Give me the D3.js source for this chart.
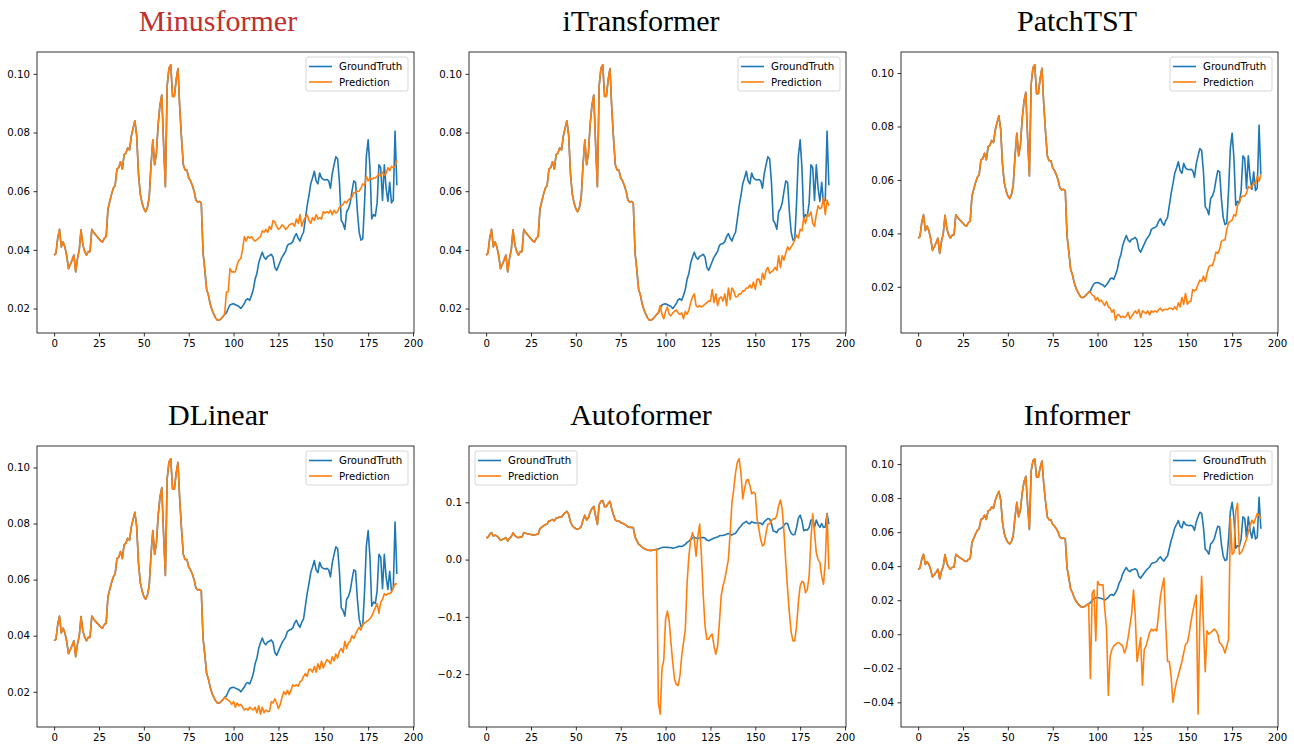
<!DOCTYPE html>
<html>
<head>
<meta charset="utf-8">
<script src="https://cdn.jsdelivr.net/npm/d3@7"></script>
<style>
  body { margin: 0; background: #fff; }
  svg { display: block; }
</style>
</head>
<body>
<svg width="1294" height="747"></svg>
<script>
// time steps: 96 input steps followed by 96 forecast steps
var steps = d3.range(192)

var groundTruth = [
  0.0382, 0.0388, 0.0440, 0.0470, 0.0410, 0.0427, 0.0410, 0.0380, 0.0336, 0.0350,
  0.0365, 0.0382, 0.0325, 0.0370, 0.0400, 0.0468, 0.0417, 0.0395, 0.0382, 0.0394,
  0.0394, 0.0470, 0.0460, 0.0452, 0.0445, 0.0438, 0.0430, 0.0427, 0.0440, 0.0445,
  0.0540, 0.0565, 0.0590, 0.0610, 0.0620, 0.0675, 0.0680, 0.0700, 0.0675, 0.0725,
  0.0730, 0.0748, 0.0740, 0.0787, 0.0815, 0.0840, 0.0790, 0.0660, 0.0590, 0.0560,
  0.0540, 0.0530, 0.0545, 0.0580, 0.0690, 0.0775, 0.0690, 0.0730, 0.0830, 0.0895,
  0.0928, 0.0760, 0.0615, 0.0960, 0.1020, 0.1031, 0.0923, 0.0923, 0.0980, 0.1018,
  0.0884, 0.0780, 0.0690, 0.0672, 0.0672, 0.0645, 0.0635, 0.0620, 0.0600, 0.0570,
  0.0563, 0.0565, 0.0560, 0.0390, 0.0330, 0.0265, 0.0245, 0.0215, 0.0195, 0.0180,
  0.0168, 0.0160, 0.0160, 0.0165, 0.0172, 0.0180, 0.0185, 0.0200, 0.0212, 0.0215,
  0.0216, 0.0213, 0.0210, 0.0207, 0.0200, 0.0208, 0.0217, 0.0230, 0.0233, 0.0228,
  0.0245, 0.0265, 0.0300, 0.0320, 0.0355, 0.0375, 0.0392, 0.0375, 0.0368, 0.0378,
  0.0380, 0.0385, 0.0375, 0.0340, 0.0330, 0.0345, 0.0360, 0.0375, 0.0385, 0.0395,
  0.0415, 0.0420, 0.0422, 0.0428, 0.0445, 0.0455, 0.0440, 0.0430, 0.0448, 0.0460,
  0.0505, 0.0550, 0.0585, 0.0625, 0.0645, 0.0668, 0.0635, 0.0625, 0.0662, 0.0645,
  0.0640, 0.0638, 0.0640, 0.0635, 0.0610, 0.0660, 0.0690, 0.0717, 0.0710, 0.0630,
  0.0500, 0.0490, 0.0470, 0.0530, 0.0540, 0.0560, 0.0600, 0.0635, 0.0630, 0.0530,
  0.0460, 0.0433, 0.0438, 0.0560, 0.0720, 0.0775, 0.0680, 0.0505, 0.0520, 0.0515,
  0.0560, 0.0690, 0.0680, 0.0568, 0.0690, 0.0610, 0.0565, 0.0630, 0.0560, 0.0570,
  0.0805, 0.0620
]

// forecasts for steps 96..191
var predMinusformer = [
  0.0255, 0.0257, 0.0336, 0.0325, 0.0325, 0.0325, 0.0350, 0.0365, 0.0370, 0.0400,
  0.0445, 0.0430, 0.0445, 0.0440, 0.0445, 0.0435, 0.0430, 0.0435, 0.0440, 0.0445,
  0.0465, 0.0460, 0.0470, 0.0460, 0.0480, 0.0470, 0.0500, 0.0495, 0.0480, 0.0470,
  0.0475, 0.0485, 0.0480, 0.0470, 0.0475, 0.0485, 0.0488, 0.0490, 0.0480, 0.0505,
  0.0490, 0.0520, 0.0480, 0.0500, 0.0510, 0.0520, 0.0500, 0.0490, 0.0510, 0.0500,
  0.0520, 0.0505, 0.0510, 0.0505, 0.0530, 0.0525, 0.0530, 0.0525, 0.0535, 0.0520,
  0.0535, 0.0525, 0.0530, 0.0545, 0.0550, 0.0555, 0.0565, 0.0560, 0.0570, 0.0575,
  0.0580, 0.0595, 0.0595, 0.0600, 0.0600, 0.0610, 0.0625, 0.0620, 0.0650, 0.0635,
  0.0645, 0.0640, 0.0645, 0.0645, 0.0650, 0.0660, 0.0650, 0.0665, 0.0655, 0.0660,
  0.0680, 0.0670, 0.0685, 0.0680, 0.0685, 0.0705
]

var predITransformer = [
  0.0185, 0.0210, 0.0180, 0.0165, 0.0190, 0.0205, 0.0180, 0.0175, 0.0185, 0.0190,
  0.0195, 0.0185, 0.0180, 0.0185, 0.0165, 0.0190, 0.0180, 0.0195, 0.0220, 0.0240,
  0.0250, 0.0210, 0.0205, 0.0210, 0.0205, 0.0210, 0.0215, 0.0220, 0.0225, 0.0225,
  0.0265, 0.0220, 0.0250, 0.0210, 0.0235, 0.0240, 0.0225, 0.0250, 0.0210, 0.0270,
  0.0230, 0.0270, 0.0260, 0.0240, 0.0240, 0.0250, 0.0250, 0.0260, 0.0260, 0.0270,
  0.0270, 0.0280, 0.0270, 0.0290, 0.0265, 0.0300, 0.0300, 0.0280, 0.0320, 0.0300,
  0.0330, 0.0340, 0.0320, 0.0325, 0.0330, 0.0340, 0.0330, 0.0380, 0.0340, 0.0380,
  0.0365, 0.0390, 0.0410, 0.0400, 0.0410, 0.0420, 0.0435, 0.0450, 0.0440, 0.0470,
  0.0465, 0.0510, 0.0490, 0.0520, 0.0515, 0.0530, 0.0490, 0.0480, 0.0520, 0.0550,
  0.0540, 0.0545, 0.0580, 0.0520, 0.0570, 0.0550
]

var predPatchTST = [
  0.0180, 0.0170, 0.0165, 0.0150, 0.0160, 0.0145, 0.0150, 0.0140, 0.0130, 0.0145,
  0.0125, 0.0120, 0.0105, 0.0115, 0.0075, 0.0095, 0.0095, 0.0085, 0.0090, 0.0085,
  0.0090, 0.0105, 0.0080, 0.0090, 0.0100, 0.0110, 0.0100, 0.0115, 0.0085, 0.0110,
  0.0105, 0.0100, 0.0110, 0.0095, 0.0110, 0.0105, 0.0110, 0.0105, 0.0115, 0.0120,
  0.0110, 0.0115, 0.0115, 0.0115, 0.0120, 0.0120, 0.0115, 0.0125, 0.0115, 0.0140,
  0.0125, 0.0160, 0.0135, 0.0175, 0.0135, 0.0145, 0.0145, 0.0190, 0.0185, 0.0190,
  0.0210, 0.0225, 0.0220, 0.0240, 0.0220, 0.0250, 0.0275, 0.0280, 0.0280, 0.0300,
  0.0330, 0.0325, 0.0340, 0.0370, 0.0375, 0.0375, 0.0415, 0.0440, 0.0445, 0.0450,
  0.0470, 0.0465, 0.0505, 0.0515, 0.0535, 0.0540, 0.0540, 0.0550, 0.0575, 0.0570,
  0.0575, 0.0590, 0.0585, 0.0615, 0.0595, 0.0620
]

var predDLinear = [
  0.0175, 0.0170, 0.0165, 0.0155, 0.0165, 0.0145, 0.0160, 0.0150, 0.0155, 0.0145,
  0.0135, 0.0140, 0.0135, 0.0145, 0.0140, 0.0135, 0.0145, 0.0125, 0.0150, 0.0120,
  0.0145, 0.0125, 0.0135, 0.0130, 0.0130, 0.0165, 0.0160, 0.0175, 0.0160, 0.0140,
  0.0155, 0.0180, 0.0200, 0.0190, 0.0205, 0.0190, 0.0205, 0.0225, 0.0220, 0.0225,
  0.0220, 0.0235, 0.0240, 0.0255, 0.0265, 0.0255, 0.0280, 0.0280, 0.0270, 0.0290,
  0.0270, 0.0300, 0.0280, 0.0310, 0.0285, 0.0300, 0.0315, 0.0310, 0.0300, 0.0325,
  0.0310, 0.0335, 0.0320, 0.0345, 0.0355, 0.0340, 0.0380, 0.0355, 0.0375, 0.0380,
  0.0400, 0.0390, 0.0405, 0.0420, 0.0430, 0.0420, 0.0440, 0.0445, 0.0450, 0.0455,
  0.0460, 0.0470, 0.0485, 0.0500, 0.0515, 0.0480, 0.0520, 0.0530, 0.0550, 0.0545,
  0.0550, 0.0550, 0.0555, 0.0570, 0.0585, 0.0585
]

var predAutoformer = [
  -0.250, -0.270, -0.190, -0.175, -0.104, -0.090, -0.107, -0.145, -0.180, -0.209,
  -0.218, -0.220, -0.203, -0.168, -0.145, -0.122, -0.040, 0.0065, 0.035, 0.047,
  0.035, 0.006, 0.041, 0.062, 0.006, -0.063, -0.116, -0.139, -0.139, -0.133,
  -0.130, -0.151, -0.165, -0.151, -0.110, -0.063, -0.046, -0.034, -0.017, 0.000,
  0.047, 0.100, 0.123, 0.152, 0.170, 0.176, 0.152, 0.106, 0.123, 0.138,
  0.140, 0.129, 0.115, 0.118, 0.115, 0.071, 0.053, 0.035, 0.024, 0.027,
  0.047, 0.062, 0.062, 0.068, 0.071, 0.071, 0.077, 0.094, 0.104, 0.088,
  0.047, -0.005, -0.052, -0.093, -0.127, -0.142, -0.142, -0.116, -0.075, -0.046,
  -0.038, -0.040, -0.058, -0.052, -0.029, 0.035, 0.080, 0.047, 0.012, 0.000,
  -0.005, -0.029, -0.043, -0.005, 0.080, -0.017
]

var predInformer = [
  -0.026, 0.024, 0.026, -0.004, 0.031, 0.029, 0.029, 0.029, 0.015, 0.003,
  -0.036, -0.013, -0.009, -0.007, -0.006, -0.005, -0.005, -0.006, -0.007, -0.011,
  -0.008, -0.002, 0.005, 0.012, 0.026, 0.011, -0.016, -0.009, -0.002, -0.030,
  -0.009, -0.007, -0.003, 0.001, 0.003, 0.002, 0.003, 0.002, 0.012, 0.022,
  0.028, 0.033, 0.005, -0.016, -0.016, -0.025, -0.040, -0.033, -0.028, -0.024,
  -0.020, -0.016, -0.011, -0.006, -0.005, 0.000, 0.007, 0.013, 0.018, 0.023,
  -0.047, 0.008, 0.034, 0.005, -0.022, 0.002, 0.000, 0.001, 0.002, 0.003,
  0.002, 0.000, -0.005, -0.006, -0.008, -0.011, -0.007, -0.003, 0.068, 0.047,
  0.048, 0.072, 0.077, 0.047, 0.048, 0.050, 0.053, 0.056, 0.060, 0.064,
  0.067, 0.065, 0.068, 0.071, 0.070, 0.068
]

var models = ['Minusformer', 'iTransformer', 'PatchTST', 'DLinear', 'Autoformer', 'Informer']
var predictions = [predMinusformer, predITransformer, predPatchTST, predDLinear, predAutoformer, predInformer]
var seriesNames = ['GroundTruth', 'Prediction']

var xTicks = [0, 25, 50, 75, 100, 125, 150, 175, 200]
var yTicks = [
  [0.02, 0.04, 0.06, 0.08, 0.10],
  [0.02, 0.04, 0.06, 0.08, 0.10],
  [0.02, 0.04, 0.06, 0.08, 0.10],
  [0.02, 0.04, 0.06, 0.08, 0.10],
  [-0.2, -0.1, 0.0, 0.1],
  [-0.04, -0.02, 0.00, 0.02, 0.04, 0.06, 0.08, 0.10]
]
var yFormats = ['.2f', '.2f', '.2f', '.2f', '.1f', '.2f']

// layout
var svg = d3.select('svg')
var panelW = 377, panelH = 281
var panelX = [37, 469, 901], panelY = [52, 446]
var titleX = [218, 641, 1077]
var colors = ['#1f77b4', '#ff7f0e']
var titleColors = ['#c0302f', '#000', '#000', '#000', '#000', '#000']
var legendLeft = [false, false, false, false, true, false]
var tickFont = "'DejaVu Sans', sans-serif"

models.forEach(function(name, k) {
  var x0 = panelX[k % 3], y0 = panelY[Math.floor(k / 3)]
  var pred = groundTruth.slice(0, 96).concat(predictions[k])
  var all = groundTruth.concat(pred)
  var lo = d3.min(all), hi = d3.max(all), pad = (hi - lo) * 0.05
  var ext = d3.extent(steps), xpad = (ext[1] - ext[0]) * 0.05

  var x = d3.scaleLinear().domain([ext[0] - xpad, ext[1] + xpad]).range([0, panelW])
  var y = d3.scaleLinear().domain([lo - pad, hi + pad]).range([panelH, 0])

  var g = svg.append('g').attr('transform', 'translate(' + x0 + ',' + y0 + ')')

  // title
  svg.append('text')
    .attr('x', titleX[k % 3])
    .attr('y', y0 - 21)
    .attr('text-anchor', 'middle')
    .style('font-family', "'Liberation Serif', 'Times New Roman', serif")
    .style('font-size', '30px')
    .attr('fill', titleColors[k])
    .text(name)

  // axes
  var xa = g.append('g')
    .attr('transform', 'translate(0,' + panelH + ')')
    .call(d3.axisBottom(x).tickValues(xTicks).tickSize(3.5).tickPadding(3))
  var ya = g.append('g')
    .call(d3.axisLeft(y).tickValues(yTicks[k]).tickFormat(d3.format(yFormats[k])).tickSize(3.5).tickPadding(3.5))
  ;[xa, ya].forEach(function(a) {
    a.select('.domain').remove()
    a.attr('font-family', tickFont).attr('font-size', 10.2)
    a.selectAll('.tick line').attr('stroke', '#000').attr('stroke-width', 0.8)
    a.selectAll('.tick text').attr('fill', '#000')
  })

  // lines
  var line = d3.line()
    .x(function(d, i) { return x(steps[i]) })
    .y(function(d) { return y(d) })
  ;[groundTruth, pred].forEach(function(s, j) {
    g.append('path')
      .datum(s)
      .attr('fill', 'none')
      .attr('stroke', colors[j])
      .attr('stroke-width', 1.6)
      .attr('stroke-linejoin', 'round')
      .attr('d', line)
  })

  // frame
  g.append('rect')
    .attr('width', panelW)
    .attr('height', panelH)
    .attr('fill', 'none')
    .attr('stroke', '#000')
    .attr('stroke-width', 0.8)

  // legend
  var lw = 102, lh = 34
  var lx = legendLeft[k] ? 6 : panelW - lw - 6
  var lg = g.append('g').attr('transform', 'translate(' + lx + ',5)')
  lg.append('rect')
    .attr('width', lw).attr('height', lh).attr('rx', 2)
    .attr('fill', '#fff').attr('fill-opacity', 0.8)
    .attr('stroke', '#cccccc').attr('stroke-width', 0.8)
  seriesNames.forEach(function(s, j) {
    var cy = 9.5 + j * 15.5
    lg.append('line')
      .attr('x1', 3).attr('x2', 26).attr('y1', cy).attr('y2', cy)
      .attr('stroke', colors[j]).attr('stroke-width', 1.6)
    lg.append('text')
      .attr('x', 33).attr('y', cy).attr('dy', '0.35em')
      .style('font-family', tickFont).style('font-size', '10.2px')
      .text(s)
  })
})
</script>
</body>
</html>
